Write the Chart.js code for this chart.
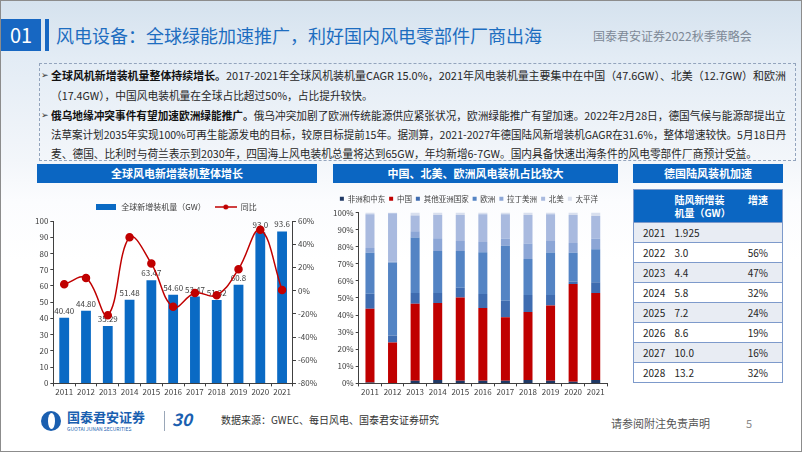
<!DOCTYPE html>
<html>
<head>
<meta charset="utf-8">
<script src="https://cdn.jsdelivr.net/npm/chart.js@4.4.1/dist/chart.umd.min.js"></script>
<style>
*{margin:0;padding:0;box-sizing:border-box}
body{width:802px;height:452px;overflow:hidden;font-family:"Noto Sans CJK SC","Noto Sans",sans-serif;background:#fff}
#slide{position:relative;width:802px;height:452px;border:1px solid #8c8c8c;overflow:hidden;
  background:linear-gradient(180deg,#d5e2ee 0,#e3ecf5 58px,#f3f6fa 160px,#fbfcfe 200px,#fff 260px)}
.abs{position:absolute}
#num{left:0;top:18px;width:40px;height:32px;background:#1767c2;color:#fff;font-size:20px;line-height:32px;text-align:center}
#bar{left:44px;top:18px;width:4px;height:32px;background:#1767c2}
#title{left:55px;top:19px;font-size:18px;line-height:30px;color:#1d6dc0;white-space:nowrap}
#event{left:592px;top:26px;font-size:12px;line-height:18px;color:#7d8896;white-space:nowrap}
#box{left:38px;top:62px;width:757px;height:98px;border:1px dashed #93a4bd}
.ln{position:absolute;left:50px;font-size:11px;line-height:14px;color:#262626;white-space:nowrap;transform-origin:0 50%}
.ln b{font-weight:700;color:#111}
.bul{position:absolute;left:40px;font-size:9px;line-height:14px;color:#333}
.tbar{position:absolute;top:163px;height:19px;background:#0b66c2;color:#fff;font-size:11px;font-weight:700;line-height:19px;text-align:center}
.cbox{position:absolute}
table{position:absolute;left:632px;top:188px;width:150px;border-collapse:collapse;font-size:10px;color:#262626;border:1px solid #7d9acb}
th{background:#0b66c2;color:#fff;font-weight:700;height:33px;text-align:left;vertical-align:top;padding-top:3px;line-height:13px}
td{height:20px;border-top:1.5px solid #7d9acb;padding:0;line-height:18px}
tr:nth-child(odd) td{background:#e8ecf3}
tr:nth-child(even) td{background:#fff}
.c1{padding-left:9px;width:41px}
.c3{text-align:right;padding-right:14px}
#foot{font-size:10px;color:#333;white-space:nowrap}
</style>
</head>
<body>
<div id="slide">
  <div id="num" class="abs">01</div>
  <div id="bar" class="abs"></div>
  <div id="title" class="abs">风电设备：全球绿能加速推广，利好国内风电零部件厂商出海</div>
  <div id="event" class="abs">国泰君安证券2022秋季策略会</div>

  <div id="box" class="abs"></div>
  <div class="bul" style="top:67px">➢</div>
  <div class="ln full" style="top:67px"><b>全球风机新增装机量整体持续增长。</b>2017-2021年全球风机装机量CAGR 15.0%，2021年风电装机量主要集中在中国（47.6GW）、北美（12.7GW）和欧洲</div>
  <div class="ln" style="top:87px">（17.4GW），中国风电装机量在全球占比超过50%，占比提升较快。</div>
  <div class="bul" style="top:107px">➢</div>
  <div class="ln full" style="top:107px"><b>俄乌地缘冲突事件有望加速欧洲绿能推广。</b>俄乌冲突加剧了欧洲传统能源供应紧张状况，欧洲绿能推广有望加速。2022年2月28日，德国气候与能源部提出立</div>
  <div class="ln full" style="top:126px">法草案计划2035年实现100%可再生能源发电的目标，较原目标提前15年。据测算，2021-2027年德国陆风新增装机GAGR在31.6%，整体增速较快。5月18日丹</div>
  <div class="ln" style="top:145px">麦、德国、比利时与荷兰表示到2030年，四国海上风电装机总量将达到65GW，年均新增6-7GW。国内具备快速出海条件的风电零部件厂商预计受益。</div>

  <div class="tbar" style="left:36px;width:280px">全球风电新增装机整体增长</div>
  <div class="tbar" style="left:332px;width:285px">中国、北美、欧洲风电装机占比较大</div>
  <div class="tbar" style="left:632px;width:150px">德国陆风装机加速</div>

  <div class="cbox" style="left:30px;top:190px;width:292px;height:207px"><canvas id="c1"></canvas></div>
  <div class="cbox" style="left:330px;top:190px;width:290px;height:207px"><canvas id="c2"></canvas></div>

  <table id="tbl">
    <thead><tr><th class="c1"></th><th>陆风新增装<br>机量（GW）</th><th class="c3" style="text-align:right">增速</th></tr></thead>
    <tbody></tbody>
  </table>

  <div class="abs" style="left:40px;top:410px;width:20px;height:20px;border-radius:50%;background:#1a5fb0"></div>
  <div class="abs" style="left:47px;top:412px;width:7px;height:16px;border-radius:50%;background:#fff"></div>
  <div class="abs" style="left:66px;top:408px;font-size:13px;font-weight:700;color:#1a5fb0;line-height:16px;white-space:nowrap">国泰君安证券</div>
  <div class="abs" style="left:66px;top:425px;font-size:5px;color:#1a5fb0;line-height:6px;white-space:nowrap">GUOTAI JUNAN SECURITIES</div>
  <div class="abs" style="left:163px;top:410px;width:1px;height:20px;background:#9aa7b8"></div>
  <div class="abs" style="left:171px;top:406px;font-size:17px;font-weight:700;font-style:italic;color:#1a5fb0;line-height:24px">30</div>
  <div id="foot" class="abs" style="left:220px;top:411px">数据来源：GWEC、每日风电、国泰君安证券研究</div>
  <div class="abs" style="left:610px;top:414px;font-size:11px;color:#555;white-space:nowrap">请参阅附注免责声明</div>
  <div class="abs" style="left:745px;top:414px;font-size:11px;color:#8a8a8a">5</div>
</div>

<script>
// 左图：全球新增装机
const years = ['2011','2012','2013','2014','2015','2016','2017','2018','2019','2020','2021'];
const installLabels = ['40.40','44.80','35.29','51.48','63.47','54.60','53.47','51.32','60.8','93.0','93.6'];
const installs = installLabels.map(Number);
const growth = [5.4, 10.9, -21.2, 45.9, 23.3, -14.0, -2.1, -4.1, 18.5, 52.5, 0.6]; // %

// 中图：各地区占比 (%)
const regions = ['非洲和中东','中国','其他亚洲国家','欧洲','拉丁美洲','北美','太平洋'];
const shareAfrica  = [0.5, 0.3, 1.5, 2.0, 1.5, 1.5, 1.5, 2.0, 1.5, 1.0, 2.0];
const shareChina   = [43.2, 23.7, 45.1, 45.0, 48.7, 42.6, 37.2, 39.8, 44.1, 57.2, 50.9];
const shareAsia    = [8.8, 4.0, 6.3, 5.9, 5.8, 8.2, 9.6, 9.9, 6.1, 1.4, 6.3];
const shareEurope  = [23.9, 42.7, 32.5, 24.5, 21.4, 24.5, 32.2, 21.1, 24.9, 16.8, 19.3];
const shareLatam   = [2.9, 0.5, 3.7, 7.5, 5.9, 6.0, 4.2, 9.0, 6.7, 5.8, 6.2];
const shareNAm     = [19.7, 28.3, 9.2, 13.6, 15.2, 16.2, 14.3, 16.7, 15.7, 16.3, 13.3];
const sharePacific = [1.0, 0.5, 1.7, 1.5, 1.5, 1.0, 1.0, 1.5, 1.0, 1.5, 2.0];
const regionColors = ['#1f3864','#c00000','#3f6cb0','#5484c4','#8ca6d6','#a9badf','#d8dfee'];

// 右表：德国陆风
const deYears = ['2021','2022','2023','2024','2025','2026','2027','2028'];
const deAdds  = ['1.925','3.0','4.4','5.8','7.2','8.6','10.0','13.2'];
const deGrowth = ['','56%','47%','32%','24%','19%','16%','32%'];

const FONT = '"Noto Sans CJK SC","Noto Sans",sans-serif';
Chart.defaults.font.family = FONT;
Chart.defaults.color = '#404040';
Chart.defaults.animation = false;

// 正文行宽对齐
(function(){
  const full = document.querySelectorAll('.ln.full');
  let ks = [];
  full.forEach(el=>{ const k = 735 / el.scrollWidth; ks.push(k); el.style.transform = 'scaleX('+k+')'; });
  const avg = ks.reduce((a,b)=>a+b,0)/ks.length;
  document.querySelectorAll('.ln:not(.full)').forEach(el=>{ el.style.transform = 'scaleX('+avg+')'; });
})();

// 表格
const tb = document.querySelector('#tbl tbody');
deYears.forEach((y,i)=>{
  const tr = document.createElement('tr');
  tr.innerHTML = '<td class="c1">'+y+'</td><td>'+deAdds[i]+'</td><td class="c3">'+deGrowth[i]+'</td>';
  tb.appendChild(tr);
});

// 图例图标
function icon(w,h,draw){ const c=document.createElement('canvas'); c.width=w; c.height=h; draw(c.getContext('2d')); return c; }
const barIcon = icon(20,6,g=>{ g.fillStyle='#0a6ac4'; g.fillRect(0,0,20,6); });
const lineIcon = icon(22,8,g=>{ g.strokeStyle='#c00000'; g.lineWidth=1.5; g.beginPath(); g.moveTo(0,4); g.lineTo(22,4); g.stroke();
  g.fillStyle='#c00000'; g.beginPath(); g.arc(11,4,2.5,0,Math.PI*2); g.fill(); });

const barLabelPlugin = {
  id:'barLabels',
  afterDatasetDraw(chart,args){
    if(args.index!==0) return;
    const ctx = chart.ctx;
    ctx.save();
    ctx.font = '8px '+FONT; ctx.fillStyle = '#404040'; ctx.textAlign='center'; ctx.textBaseline='bottom';
    args.meta.data.forEach((bar,i)=>ctx.fillText(installLabels[i], bar.x, bar.y-3));
    ctx.restore();
  }
};

const axisCommon = {
  border:{display:true,color:'#404040',width:1},
  grid:{display:true,drawOnChartArea:false,drawTicks:true,tickLength:3,color:'#404040'},
  ticks:{font:{size:8},color:'#404040',padding:2}
};

new Chart(document.getElementById('c1'),{
  data:{
    labels:years,
    datasets:[
      {type:'bar',label:'全球新增装机量（GW）',data:installs,yAxisID:'y',backgroundColor:'#0a6ac4',
       barPercentage:0.45,categoryPercentage:1,order:1},
      {type:'line',label:'同比',data:growth,yAxisID:'y1',borderColor:'#c00000',backgroundColor:'#c00000',
       borderWidth:1.5,pointRadius:3.5,pointHoverRadius:3.5,tension:0.4,order:0}
    ]
  },
  options:{
    responsive:true,maintainAspectRatio:false,
    layout:{padding:{left:2,right:4,top:3,bottom:0}},
    plugins:{
      tooltip:{enabled:false},
      legend:{position:'top',labels:{usePointStyle:true,pointStyleWidth:22,font:{size:8},color:'#404040',padding:9,
        generateLabels(chart){
          const items = Chart.defaults.plugins.legend.labels.generateLabels(chart);
          items.sort((a,b)=>a.datasetIndex-b.datasetIndex);
          items.forEach(it=>{ it.pointStyle = it.datasetIndex===0 ? barIcon : lineIcon; });
          return items;
        }}}
    },
    scales:{
      x:{...axisCommon,ticks:{font:{size:8},color:'#404040',padding:1,maxRotation:0,autoSkip:false}},
      y:{...axisCommon,position:'left',min:0,max:100,ticks:{...axisCommon.ticks,stepSize:10}},
      y1:{...axisCommon,position:'right',min:-80,max:60,ticks:{...axisCommon.ticks,stepSize:20,callback:v=>v+'%'}}
    }
  },
  plugins:[barLabelPlugin]
});

const shares = [shareAfrica,shareChina,shareAsia,shareEurope,shareLatam,shareNAm,sharePacific];
new Chart(document.getElementById('c2'),{
  type:'bar',
  data:{
    labels:years,
    datasets:regions.map((r,i)=>({label:r,data:shares[i],backgroundColor:regionColors[i],
      barPercentage:0.4,categoryPercentage:1}))
  },
  options:{
    responsive:true,maintainAspectRatio:false,
    layout:{padding:{left:0,right:14,top:0,bottom:0}},
    plugins:{
      tooltip:{enabled:false},
      legend:{position:'top',labels:{boxWidth:4,boxHeight:4,font:{size:7.5},color:'#404040',padding:4}}
    },
    scales:{
      x:{...axisCommon,stacked:true,ticks:{font:{size:8},color:'#404040',padding:1,maxRotation:0,autoSkip:false}},
      y:{...axisCommon,stacked:true,min:0,max:100,ticks:{...axisCommon.ticks,stepSize:10,callback:v=>v+'%'}}
    }
  }
});
</script>
</body>
</html>
